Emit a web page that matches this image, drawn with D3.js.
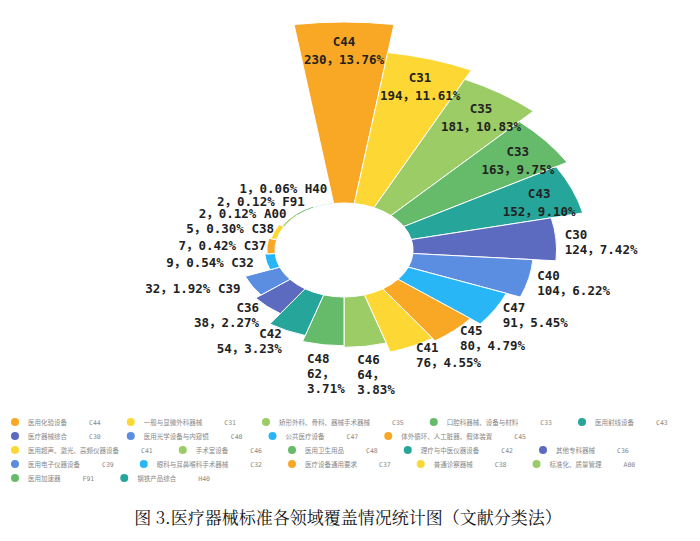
<!DOCTYPE html>
<html lang="en">
  <head>
    <meta charset="utf-8">
    <script src="https://d3js.org/d3.v7.min.js"></script>
    <style>
      body { margin: 0; background: #fff; }
      text { font-family: "DejaVu Sans Mono", "Noto Sans CJK SC", monospace; }
    </style>
  </head>
  <body>
    <svg width="700" height="541"></svg>
    <script>
      // data
      var codes = ["C44","C31","C35","C33","C43","C30","C40","C47","C45","C41","C46",
        "C48","C42","C36","C39","C32","C37","C38","A00","F91","H40"];
      var values = [230,194,181,163,152,124,104,91,80,76,64,62,54,38,32,9,7,5,2,2,1];
      var percents = ["13.76%","11.61%","10.83%","9.75%","9.10%","7.42%","6.22%","5.45%",
        "4.79%","4.55%","3.83%","3.71%","3.23%","2.27%","1.92%","0.54%","0.42%","0.30%",
        "0.12%","0.12%","0.06%"];
      var names = ["医用化验设备","一般与显微外科器械","矫形外科、骨科、器械手术器械","口腔科器械、设备与材料",
        "医用射线设备","医疗器械综合","医用光学设备与内窥镜","公共医疗设备","体外循环、人工脏器、假体装置",
        "医用超声、激光、高频仪器设备","手术室设备","医用卫生用品","理疗与中医仪器设备","其他专科器械",
        "医用电子仪器设备","眼科与耳鼻喉科手术器械","医疗设备通用要求","普通诊察器械","标准化、质量管理",
        "医用加速器","钢铁产品综合"];
      var legendRows = [5, 4, 5, 5, 2];
      var palette = ["#F9A825","#FDD835","#9CCC65","#66BB6A","#26A69A","#5C6BC0","#5B8DE0","#29B6F6"];

      var svg = d3.select("svg");
      var cx = 344, cy = 250, sx = 1.47;
      var n = codes.length, step = 2 * Math.PI / n, start = -step / 2;
      var colorList = codes.map(function(d, i) { return palette[i % 8]; });
      var r = d3.scaleLinear().domain([0, 230]).range([47, 228]);
      var arc = d3.arc();

      var g = svg.append("g").attr("transform", "translate(" + cx + "," + cy + ") scale(" + sx + ",1)");
      g.selectAll("path").data(values).enter().append("path")
        .attr("d", function(d, i) {
          return arc({innerRadius: 47, outerRadius: r(d), startAngle: start + i * step, endAngle: start + (i + 1) * step});
        })
        .attr("fill", function(d, i) { return colorList[i]; })
        .attr("stroke", "#fff").attr("stroke-width", 1).attr("vector-effect", "non-scaling-stroke");

      function pt(rad, a) { return [cx + Math.sin(a) * rad * sx, cy - Math.cos(a) * rad]; }
      var lab = svg.append("g").attr("font-weight", "bold").attr("font-size", 12.5).attr("fill", "#222");
      var prevY = null;
      values.forEach(function(v, i) {
        var a = start + (i + 0.5) * step;
        var line2 = v + "，" + percents[i];
        var p, t;
        if (i < 5) {
          p = pt(r(v) - 24, a);
          t = lab.append("text").attr("text-anchor", "middle").attr("x", p[0]).attr("y", p[1]);
          t.append("tspan").attr("x", p[0]).attr("dy", 0).text(codes[i]);
          t.append("tspan").attr("x", p[0]).attr("dy", 18).text(line2);
        } else if (i < 10) {
          p = pt(r(v) + 6, a);
          t = lab.append("text").attr("x", p[0]).attr("y", p[1]);
          t.append("tspan").attr("x", p[0]).attr("dy", 0).text(codes[i]);
          t.append("tspan").attr("x", p[0]).attr("dy", 15).text(line2);
        } else if (i < 12) {
          p = pt(r(v) + 18, a);
          t = lab.append("text").attr("x", p[0] - 12).attr("y", p[1]);
          t.append("tspan").attr("x", p[0] - 12).attr("dy", 0).text(codes[i]);
          t.append("tspan").attr("x", p[0] - 12).attr("dy", 15).text(v + "，");
          t.append("tspan").attr("x", p[0] - 12).attr("dy", 15).text(percents[i]);
        } else if (i < 14) {
          p = pt(r(v) + 8, a);
          t = lab.append("text").attr("text-anchor", "end").attr("x", p[0]).attr("y", p[1]);
          t.append("tspan").attr("x", p[0]).attr("dy", 0).text(codes[i]);
          t.append("tspan").attr("x", p[0]).attr("dy", 15).text(line2);
        } else {
          p = pt(Math.max(57, r(v) + 6), a);
          var y = p[1] + 4;
          if (i > 15 && y > prevY - 12.5) y = prevY - 12.5;
          prevY = y;
          lab.append("text").attr("text-anchor", "end").attr("x", p[0] + (i > 15 ? 8 : -4)).attr("y", y)
            .text(line2 + "  " + codes[i]);
        }
      });

      // legend, flowing rows
      var rowsY = [422, 436, 450, 464, 478];
      var leg = svg.append("g").attr("font-size", 6.5).attr("fill", "#888")
        .style("font-family", "'Noto Sans CJK SC', sans-serif");
      var k = 0;
      legendRows.forEach(function(cnt, row) {
        var x = 15;
        for (var j = 0; j < cnt; j++, k++) {
          var y = rowsY[row];
          leg.append("circle").attr("cx", x).attr("cy", y).attr("r", 4).attr("fill", colorList[k]);
          var t1 = leg.append("text").attr("x", x + 13).attr("y", y + 2.5).text(names[k]);
          var w = t1.node().getComputedTextLength();
          var t2 = leg.append("text").attr("x", x + 13 + w + 22).attr("y", y + 2.5).text(codes[k]);
          x += 13 + w + 22 + t2.node().getComputedTextLength() + 30;
        }
      });

      svg.append("text").attr("x", 348).attr("y", 524).attr("text-anchor", "middle")
        .attr("font-size", 17).attr("fill", "#111")
        .style("font-family", "'Noto Serif CJK SC', 'Noto Sans CJK SC', serif")
        .text("图 3.医疗器械标准各领域覆盖情况统计图（文献分类法）");
    </script>
  </body>
</html>
